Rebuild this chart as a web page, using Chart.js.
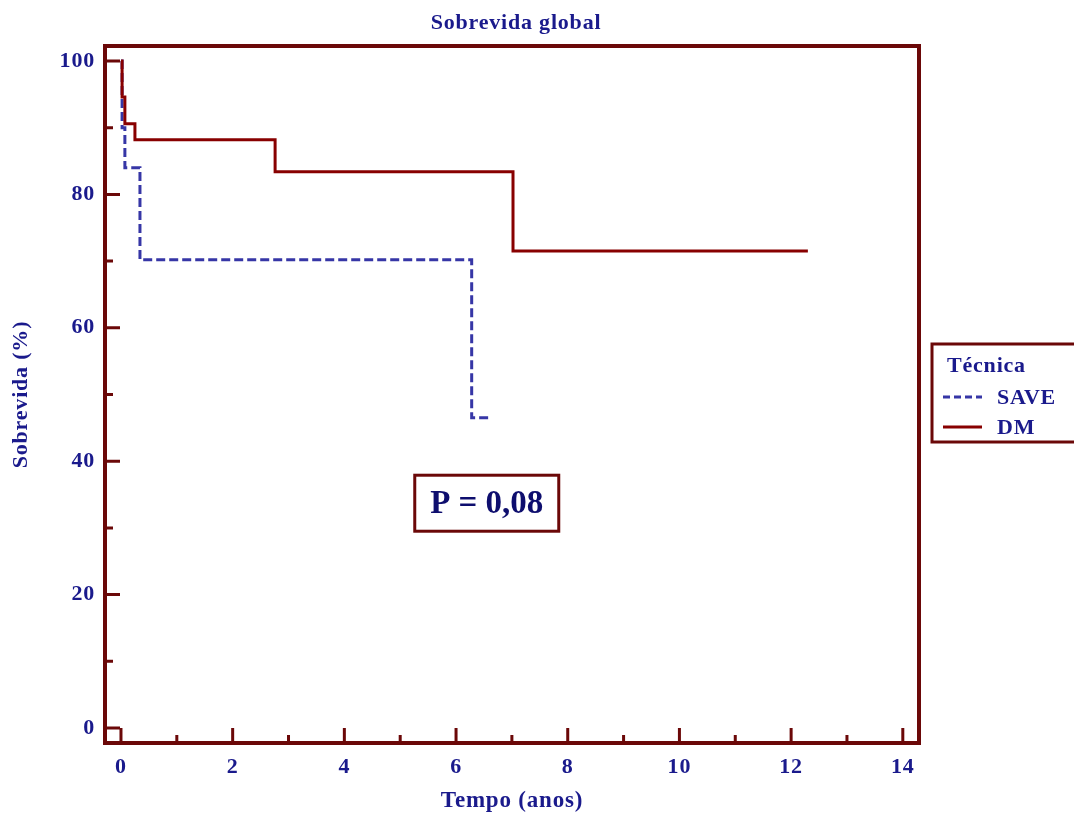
<!DOCTYPE html>
<html>
<head>
<meta charset="utf-8">
<script src="https://cdn.jsdelivr.net/npm/chart.js@4"></script>
<style>
  html, body { margin: 0; padding: 0; background: #fff; }
  #wrap { width: 1074px; height: 816px; }
</style>
</head>
<body>
<div id="wrap"><canvas id="kmChart" width="1074" height="816"></canvas></div>
<script>
// Sobrevida global — curvas de Kaplan-Meier

// tempos (anos) e sobrevida (%) de cada grupo
const saveTimes = [0, 0.02, 0.07, 0.34, 6.28, 6.6];
const saveSurv  = [100, 90.0, 84.0, 70.2, 46.5, 46.5];
const dmTimes   = [0, 0.02, 0.07, 0.25, 2.76, 7.02, 12.3];
const dmSurv    = [100, 94.6, 90.6, 88.2, 83.4, 71.5, 71.5];

const xTicks = [0, 2, 4, 6, 8, 10, 12, 14];
const xMinor = [1, 3, 5, 7, 9, 11, 13];
const yTicks = [0, 20, 40, 60, 80, 100];
const yMinor = [10, 30, 50, 70, 90];

const seriesLabels = ['SAVE', 'DM'];
const legendTitle = 'Técnica';
const pText = 'P = 0,08';
const pPos = { x: 6.55, y: 33.7 };

const FRAME = '#6B0808';
const NAVY = '#1A1A8C';
const SERIF = '"Liberation Serif", "Times New Roman", serif';

function toPoints(times, surv) {
  return times.map((t, i) => ({ x: t, y: surv[i] }));
}

// texto do original é um pouco mais largo
const spacingPlugin = {
  id: 'spacing',
  beforeDraw(chart) {
    chart.ctx.letterSpacing = '0.8px';
  }
};

const framePlugin = {
  id: 'frameTicks',
  afterDatasetsDraw(chart) {
    const { ctx, chartArea: a, scales } = chart;
    ctx.save();
    ctx.strokeStyle = FRAME;
    ctx.lineCap = 'butt';
    // ticks para dentro
    ctx.lineWidth = 3;
    ctx.beginPath();
    xTicks.forEach(v => {
      const px = scales.x.getPixelForValue(v);
      ctx.moveTo(px, a.bottom); ctx.lineTo(px, a.bottom - 15);
    });
    xMinor.forEach(v => {
      const px = scales.x.getPixelForValue(v);
      ctx.moveTo(px, a.bottom); ctx.lineTo(px, a.bottom - 8);
    });
    yTicks.forEach(v => {
      const py = scales.y.getPixelForValue(v);
      ctx.moveTo(a.left, py); ctx.lineTo(a.left + 15, py);
    });
    yMinor.forEach(v => {
      const py = scales.y.getPixelForValue(v);
      ctx.moveTo(a.left, py); ctx.lineTo(a.left + 8, py);
    });
    ctx.stroke();
    // moldura
    ctx.lineWidth = 4;
    ctx.strokeRect(a.left, a.top, a.right - a.left, a.bottom - a.top);

    // titulo
    ctx.fillStyle = NAVY;
    ctx.letterSpacing = '0.8px';
    ctx.font = 'bold 22px ' + SERIF;
    ctx.textAlign = 'center';
    ctx.textBaseline = 'middle';
    ctx.fillText('Sobrevida global', 516, 23);

    // caixa do valor p
    const cx = scales.x.getPixelForValue(pPos.x);
    const cy = scales.y.getPixelForValue(pPos.y);
    ctx.lineWidth = 3;
    ctx.strokeRect(cx - 72, cy - 28, 144, 56);
    ctx.fillStyle = '#0E0E6E';
    ctx.letterSpacing = '0px';
    ctx.font = 'bold 33px ' + SERIF;
    ctx.fillText(pText, cx, cy + 1);

    // legenda
    const lx = 932, ly = 344;
    ctx.lineWidth = 3;
    ctx.strokeRect(lx, ly, 160, 98);
    ctx.fillStyle = NAVY;
    ctx.letterSpacing = '0.8px';
    ctx.font = 'bold 22px ' + SERIF;
    ctx.textAlign = 'left';
    ctx.fillText(legendTitle, lx + 15, ly + 22);
    chart.data.datasets.forEach((ds, i) => {
      const yy = ly + 53 + i * 30;
      ctx.strokeStyle = ds.borderColor;
      ctx.lineWidth = ds.borderWidth;
      ctx.setLineDash(ds.borderDash ? [7, 4] : []);
      ctx.beginPath();
      ctx.moveTo(lx + 11, yy); ctx.lineTo(lx + 50, yy);
      ctx.stroke();
      ctx.setLineDash([]);
      ctx.fillText(ds.label, lx + 65, yy + 1);
    });
    ctx.restore();
  }
};

const ctx = document.getElementById('kmChart').getContext('2d');

new Chart(ctx, {
  type: 'line',
  data: {
    datasets: [
      {
        label: seriesLabels[0],
        data: toPoints(saveTimes, saveSurv),
        borderColor: '#3636A6',
        borderWidth: 3,
        borderDash: [9, 4],
        stepped: 'before',
        pointRadius: 0,
        fill: false,
        order: 1
      },
      {
        label: seriesLabels[1],
        data: toPoints(dmTimes, dmSurv),
        borderColor: '#880000',
        borderWidth: 3,
        stepped: 'before',
        pointRadius: 0,
        fill: false,
        order: 0
      }
    ]
  },
  options: {
    responsive: false,
    animation: false,
    devicePixelRatio: 1,
    layout: { padding: { top: 46, right: 155, left: 0, bottom: 0 } },
    plugins: {
      legend: { display: false },
      title: { display: false },
      tooltip: { enabled: false }
    },
    scales: {
      x: {
        type: 'linear',
        min: -0.286,
        max: 14.29,
        afterBuildTicks: s => { s.ticks = xTicks.map(v => ({ value: v })); },
        afterFit: s => { s.height = 73; },
        grid: { display: false, drawTicks: false },
        border: { display: false },
        ticks: {
          padding: 11,
          color: NAVY,
          font: { family: SERIF, size: 22, weight: 'bold' },
          maxRotation: 0
        },
        title: {
          display: true,
          text: 'Tempo (anos)',
          color: NAVY,
          font: { family: SERIF, size: 23, weight: 'bold' },
          padding: { top: 0, bottom: 1 }
        }
      },
      y: {
        min: -2.25,
        max: 102.25,
        afterBuildTicks: s => { s.ticks = yTicks.map(v => ({ value: v })); },
        afterFit: s => { s.width = 105; },
        grid: { display: false, drawTicks: false },
        border: { display: false },
        ticks: {
          padding: 10,
          color: NAVY,
          font: { family: SERIF, size: 22, weight: 'bold' }
        },
        title: {
          display: true,
          text: 'Sobrevida (%)',
          color: NAVY,
          font: { family: SERIF, size: 22, weight: 'bold' },
          padding: { top: 8, bottom: 0 }
        }
      }
    }
  },
  plugins: [spacingPlugin, framePlugin]
});
</script>
</body>
</html>
